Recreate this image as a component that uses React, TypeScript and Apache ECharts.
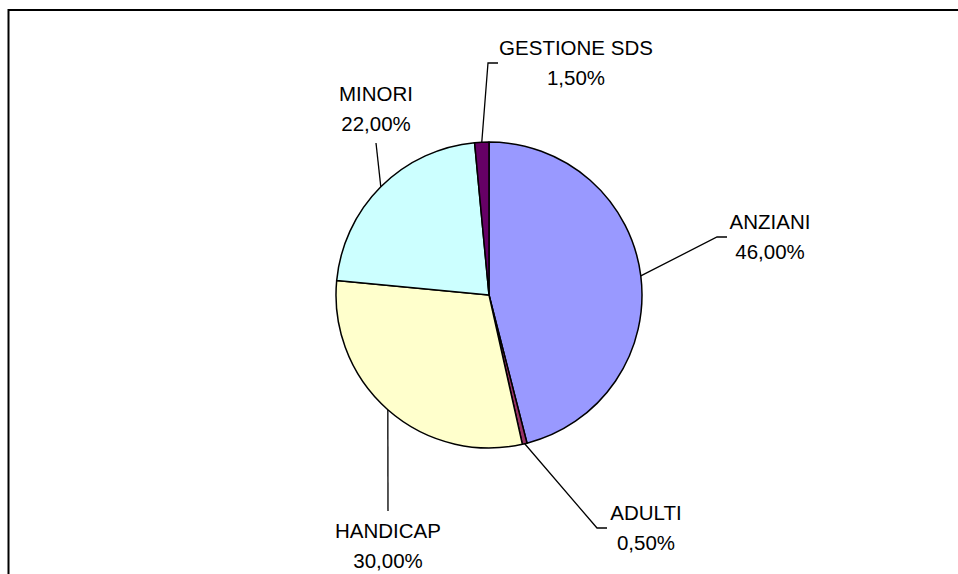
import React, { useEffect, useRef } from "react";
import * as echarts from "echarts";

const categories = ["ANZIANI", "ADULTI", "HANDICAP", "MINORI", "GESTIONE SDS"];
const values = [46, 0.5, 30, 22, 1.5];
const colors = ["#9999FF", "#993366", "#FFFFCC", "#CCFFFF", "#660066"];

// label placement (layout only): label centre, elbow, end of leader line
const labelLayouts = [
  { x: 770, y: 236, ex: 717, ey: 237, tx: 727, ty: 237 },
  { x: 646, y: 527, ex: 597, ey: 528, tx: 607, ty: 528 },
  { x: 388, y: 545, ex: 388, ey: 511, tx: 388, ty: 511 },
  { x: 376, y: 108, ex: 376, ey: 143, tx: 376, ty: 143 },
  { x: 576, y: 62, ex: 488, ey: 63, tx: 498, ty: 63 },
];

const CX = 489;
const CY = 295;
const R = 153;

function fmt(v: number) {
  return v.toFixed(2).replace(".", ",") + "%";
}

function computeStart(i: number): number[] {
  const total = values.reduce((a, b) => a + b, 0);
  let before = 0;
  for (let k = 0; k < i; k++) before += values[k];
  const mid = ((before + values[i] / 2) / total) * Math.PI * 2;
  return [CX + R * Math.sin(mid), CY - R * Math.cos(mid)];
}

export default function App() {
  const ref = useRef<HTMLDivElement>(null);
  useEffect(() => {
    if (!ref.current) return;
    const chart = echarts.init(ref.current, undefined, { renderer: "svg" });
    chart.setOption({
      animation: false,
      backgroundColor: "#ffffff",
      graphic: [
        {
          type: "polyline",
          shape: { points: [[8.5, 574], [8.5, 10], [958, 10]] },
          style: { stroke: "#000", lineWidth: 2, fill: "none" },
          z: 10,
        },
      ],
      series: [
        {
          type: "pie",
          center: [CX, CY],
          radius: R,
          startAngle: 90,
          clockwise: true,
          avoidLabelOverlap: false,
          minShowLabelAngle: 0,
          itemStyle: { borderColor: "#000", borderWidth: 1.5 },
          emphasis: { disabled: true },
          label: {
            show: true,
            position: "outside",
            color: "#000",
            fontSize: 20.5,
            lineHeight: 30,
            fontFamily: "'Liberation Sans', Arial, sans-serif",
            formatter: (p: any) => p.name + "\n" + fmt(p.value),
          },
          labelLine: {
            show: true,
            lineStyle: { color: "#000", width: 1.3 },
          },
          labelLayout: (params: any) => {
            const i = params.dataIndex;
            const L = labelLayouts[i];
            const start =
              params.labelLinePoints && params.labelLinePoints[0]
                ? params.labelLinePoints[0]
                : computeStart(i);
            return {
              x: L.x,
              y: L.y,
              align: "center",
              verticalAlign: "middle",
              labelLinePoints: [start, [L.ex, L.ey], [L.tx, L.ty]],
            };
          },
          data: categories.map((c, i) => ({
            name: c,
            value: values[i],
            itemStyle: { color: colors[i] },
          })),
        },
      ],
    });
    return () => chart.dispose();
  }, []);
  return (
    <div
      ref={ref}
      style={{ position: "fixed", left: 0, top: 0, width: 958, height: 574 }}
    />
  );
}
